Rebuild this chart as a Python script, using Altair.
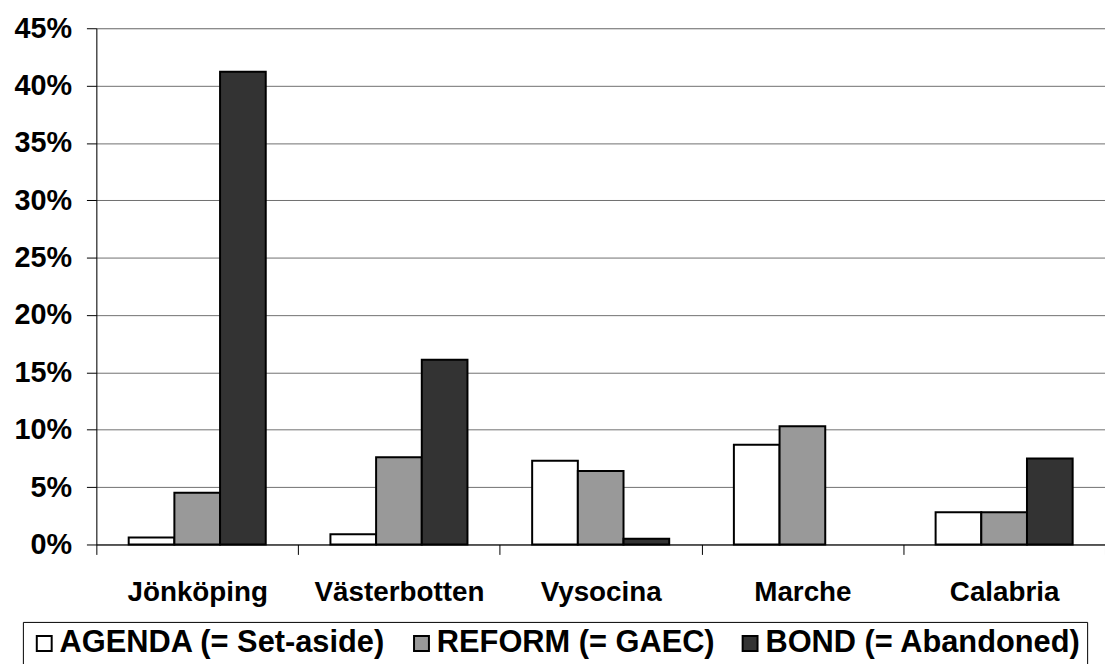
import altair as alt
import pandas as pd

regions = ["Jönköping", "Västerbotten", "Vysocina", "Marche", "Calabria"]
series = ["AGENDA (= Set-aside)", "REFORM (= GAEC)", "BOND (= Abandoned)"]
agenda = [0.6, 0.9, 7.3, 8.7, 2.8]
reform = [4.5, 7.6, 6.4, 10.3, 2.8]
bond = [41.2, 16.1, 0.5, None, 7.5]
colors = ["#ffffff", "#999999", "#333333"]
y_ticks = [0, 0.05, 0.10, 0.15, 0.20, 0.25, 0.30, 0.35, 0.40, 0.45]

rows = []
for s, vals in zip(series, [agenda, reform, bond]):
    for r, v in zip(regions, vals):
        if v is not None:
            rows.append({"region": r, "series": s, "value": v / 100.0})
df = pd.DataFrame(rows)

FONT = "Liberation Sans"

chart = alt.Chart(df).mark_bar(stroke="black", strokeWidth=2).encode(
    x=alt.X(
        "region:N",
        sort=regions,
        scale=alt.Scale(paddingInner=0, paddingOuter=0),
        axis=alt.Axis(
            title=None,
            labelAngle=0,
            labelFont=FONT,
            labelFontSize=28,
            labelFontWeight="bold",
            labelColor="black",
            labelPadding=24,
            tickBand="extent",
            tickSize=10,
            tickColor="black",
            domainColor="black",
            grid=False,
        ),
    ),
    xOffset=alt.XOffset(
        "series:N", sort=series, scale=alt.Scale(paddingInner=0, paddingOuter=0.708)
    ),
    y=alt.Y(
        "value:Q",
        scale=alt.Scale(domain=[0, 0.45], nice=False),
        axis=alt.Axis(
            title=None,
            values=y_ticks,
            format=".0%",
            labelFont=FONT,
            labelFontSize=29,
            labelFontWeight="bold",
            labelColor="black",
            labelPadding=15,
            tickSize=10,
            tickColor="black",
            domainColor="black",
            grid=True,
            gridColor="#707070",
            gridWidth=1,
        ),
    ),
    color=alt.Color(
        "series:N",
        sort=series,
        scale=alt.Scale(domain=series, range=colors),
        legend=alt.Legend(
            title=None,
            orient="none",
            legendX=-74,
            legendY=598,
            direction="horizontal",
            symbolType="square",
            symbolSize=225,
            symbolStrokeColor="black",
            symbolStrokeWidth=2,
            symbolOpacity=1,
            labelFont=FONT,
            labelFontSize=31,
            labelFontWeight="bold",
            labelColor="black",
            labelOffset=0,
            labelLimit=1000,
            columnPadding=20,
            padding=6,
            strokeColor="black",
            fillColor="white",
        ),
    ),
).properties(
    width=1016,
    height=520,
    autosize=alt.AutoSizeParams(type="none"),
    padding={"left": 89, "top": 18, "right": 0, "bottom": 118},
).configure_view(stroke=None).configure(background="white")

chart.save("out.html", embed_options={"renderer": "svg", "actions": False})
